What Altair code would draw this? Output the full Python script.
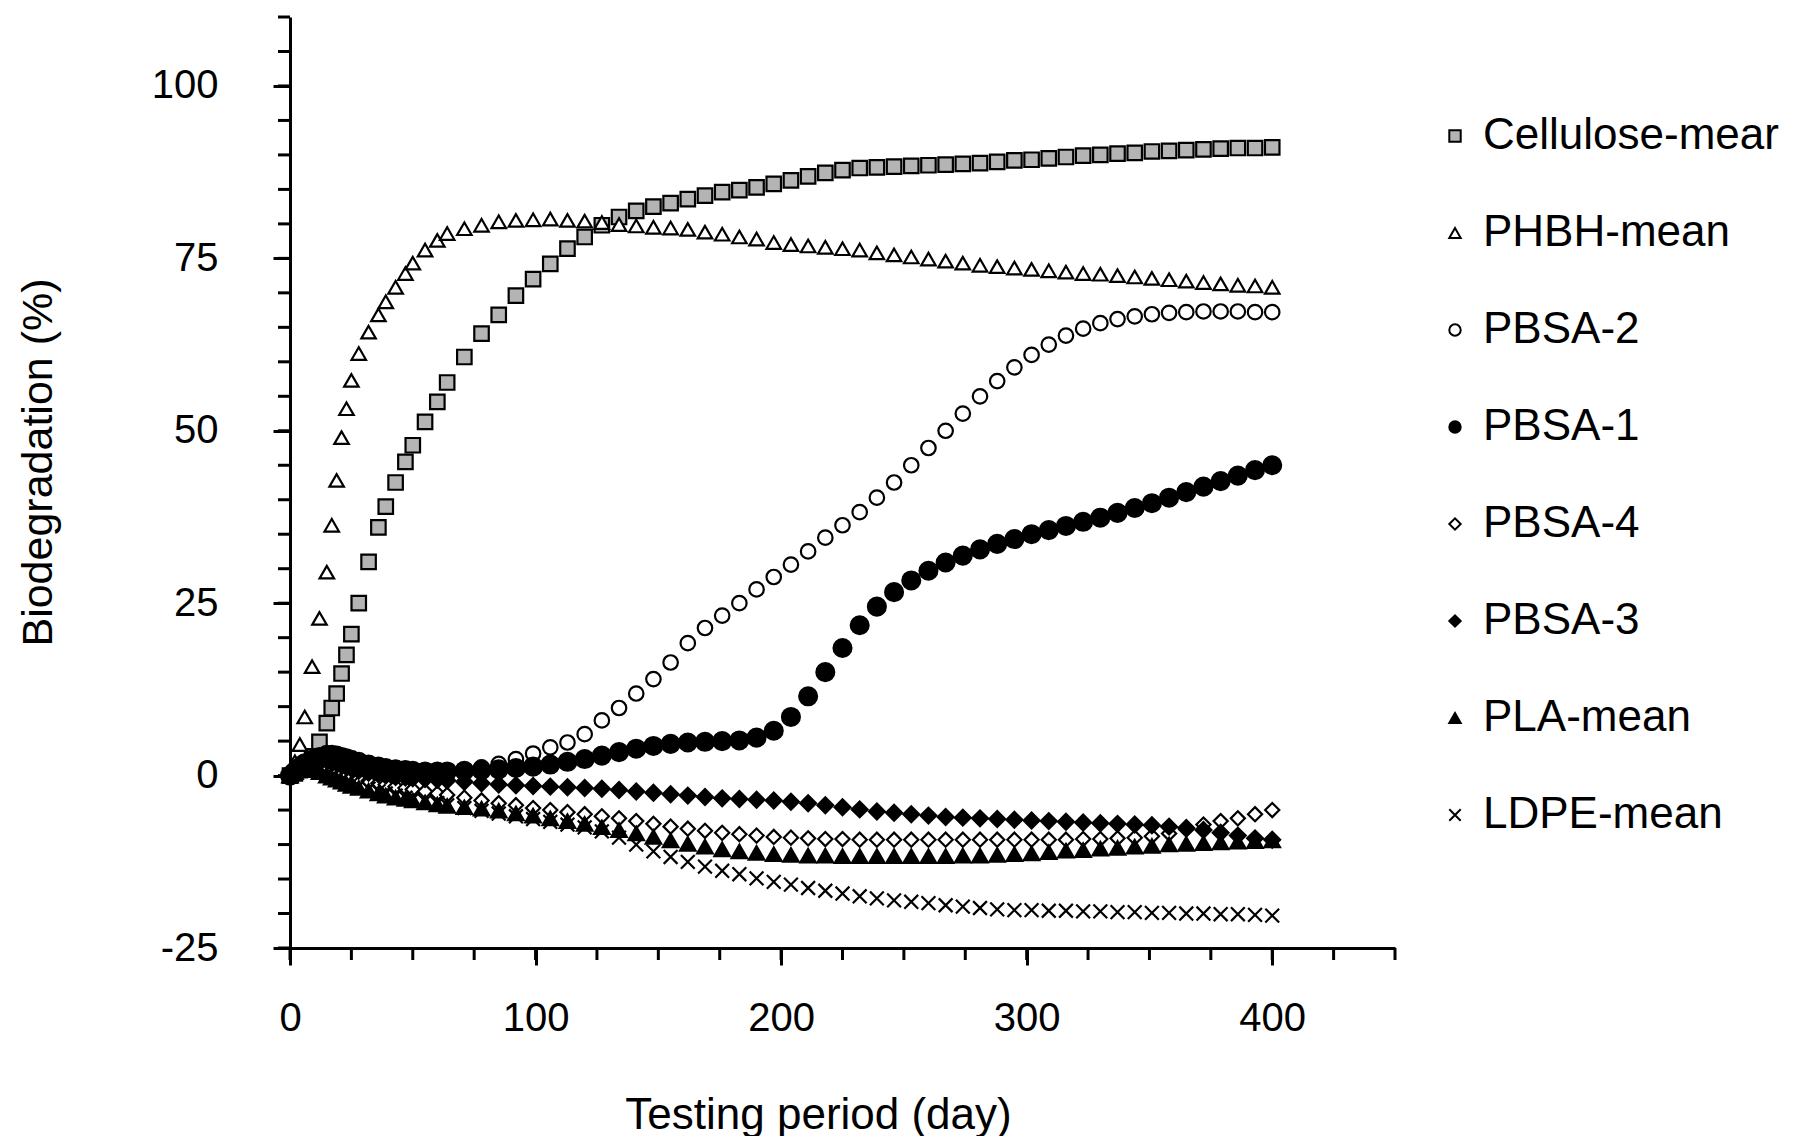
import altair as alt
import pandas as pd

# ---- data ----
days = [0, 2, 4, 6, 9, 12, 15, 17, 19, 21, 23, 25, 28, 32, 36, 39, 43, 47, 50, 55, 60,
        64, 71, 78, 85, 92, 99, 106, 113, 120, 127, 134, 141, 148, 155, 162, 169, 176, 183,
        190, 197, 204, 211, 218, 225, 232, 239, 246, 253, 260, 267, 274, 281, 288, 295,
        302, 309, 316, 323, 330, 337, 344, 351, 358, 365, 372, 379, 386, 393, 400]

cellulose = [0, 0.3, 0.8, 1.5, 2.8, 4.9, 7.6, 9.8, 11.9, 14.8, 17.5, 20.5, 25, 31, 36, 39, 42.5, 45.5, 47.9, 51.3, 54.2,
             57, 60.7, 64.1, 66.8, 69.6, 72, 74.2, 76.4, 78.1, 79.8, 81, 81.9, 82.5, 83, 83.6, 84.1, 84.6, 84.9, 85.3, 85.8,
             86.3, 86.9, 87.4, 87.8, 88.1, 88.2, 88.3, 88.4, 88.5, 88.6, 88.7, 88.8, 89.0, 89.2, 89.3, 89.5, 89.7, 89.9, 90.0,
             90.2, 90.3, 90.5, 90.6, 90.7, 90.8, 90.9, 91.0, 91.0, 91.1]
phbh = [0, 2, 4.5, 8.5, 15.8, 22.8, 29.5, 36.3, 42.8, 49, 53.2, 57.3, 61.2, 64.3, 66.8, 68.7, 70.8, 72.8, 74.3, 76.2, 77.6,
        78.6, 79.3, 79.8, 80.3, 80.5, 80.6, 80.7, 80.5, 80.4, 80.2, 79.9, 79.7, 79.5, 79.4, 79.2, 78.8, 78.5, 78.1, 77.8, 77.3,
        77.0, 76.8, 76.6, 76.4, 76.2, 75.8, 75.5, 75.2, 74.9, 74.6, 74.3, 74.0, 73.8, 73.6, 73.4, 73.2, 73.0, 72.8, 72.7,
        72.5, 72.3, 72.1, 71.9, 71.7, 71.5, 71.3, 71.1, 71.0, 70.8]
pbsa2 = [0, 0.5, 1, 1.5, 2, 2.2, 2.2, 2, 1.8, 1.5, 1.3, 1.1, 0.9, 0.7, 0.5, 0.4, 0.3, 0.3, 0.3, 0.4, 0.4,
         0.5, 0.8, 1.2, 1.7, 2.4, 3.2, 4.1, 4.8, 6, 8, 9.8, 11.9, 14, 16.4, 19.2, 21.4, 23.2, 25, 27, 28.8,
         30.6, 32.5, 34.5, 36.3, 38.2, 40.3, 42.5, 45, 47.5, 50, 52.5, 55, 57.2, 59.2, 61, 62.5, 63.8, 64.8, 65.6,
         66.2, 66.6, 66.9, 67.1, 67.2, 67.3, 67.3, 67.3, 67.2, 67.2]
pbsa1 = [0, 0.6, 1.2, 1.8, 2.3, 2.7, 3, 3, 2.9, 2.7, 2.5, 2.3, 2, 1.6, 1.3, 1.1, 0.9, 0.8, 0.7, 0.6, 0.6,
         0.6, 0.7, 0.8, 0.9, 1.1, 1.3, 1.6, 2, 2.4, 2.9, 3.4, 3.9, 4.3, 4.6, 4.8, 4.9, 5, 5.1, 5.5, 6.5,
         8.5, 11.5, 15, 18.5, 21.8, 24.5, 26.6, 28.3, 29.7, 30.9, 31.9, 32.8, 33.6, 34.3, 35, 35.6, 36.2, 36.8, 37.4,
         38.1, 38.8, 39.5, 40.3, 41.1, 41.9, 42.7, 43.5, 44.3, 45]
pbsa4 = [0, 0.5, 1, 1.2, 1.2, 1, 0.8, 0.5, 0.3, 0.1, -0.1, -0.3, -0.5, -0.8, -1.1, -1.3, -1.6, -1.8, -2, -2.3, -2.6,
         -2.8, -3.2, -3.6, -4, -4.3, -4.7, -5, -5.3, -5.6, -5.9, -6.2, -6.6, -7, -7.4, -7.7, -8, -8.3, -8.5, -8.7, -8.9,
         -9, -9.1, -9.2, -9.2, -9.3, -9.3, -9.3, -9.3, -9.3, -9.3, -9.3, -9.3, -9.3, -9.3, -9.3, -9.3, -9.3, -9.2, -9.2,
         -9.1, -9.0, -8.8, -8.4, -7.8, -7.1, -6.6, -6.2, -5.6, -5.0]
pbsa3 = [0, 0.5, 1, 1.5, 2, 2.2, 2.2, 2, 1.8, 1.5, 1.2, 1, 0.7, 0.4, 0.2, 0, -0.2, -0.3, -0.4, -0.5, -0.6,
         -0.7, -0.9, -1.1, -1.3, -1.4, -1.5, -1.6, -1.7, -1.8, -1.9, -2.1, -2.3, -2.5, -2.7, -2.9, -3.1, -3.3, -3.4, -3.5, -3.6,
         -3.8, -4.0, -4.3, -4.6, -4.9, -5.2, -5.4, -5.6, -5.8, -6.0, -6.1, -6.2, -6.3, -6.4, -6.5, -6.6, -6.7, -6.8, -6.9,
         -7.0, -7.1, -7.2, -7.4, -7.6, -7.9, -8.3, -8.7, -9.1, -9.3]
pla = [0, 0.5, 1, 1, 0.8, 0.5, 0, -0.3, -0.6, -0.9, -1.2, -1.5, -1.8, -2.2, -2.6, -2.9, -3.2, -3.4, -3.6, -3.9, -4.2,
       -4.4, -4.6, -4.8, -5.1, -5.5, -5.8, -6.2, -6.6, -7, -7.5, -7.9, -8.4, -8.9, -9.4, -9.9, -10.3, -10.7, -11, -11.2, -11.4,
       -11.5, -11.6, -11.6, -11.7, -11.7, -11.7, -11.7, -11.7, -11.7, -11.7, -11.6, -11.6, -11.5, -11.4, -11.3, -11.1, -10.9, -10.8, -10.6,
       -10.5, -10.3, -10.2, -10.0, -9.9, -9.8, -9.7, -9.6, -9.5, -9.4]
ldpe = [0, 0.5, 1, 1.2, 1, 0.7, 0.3, 0, -0.3, -0.6, -0.9, -1.2, -1.5, -1.9, -2.3, -2.6, -2.9, -3.2, -3.4, -3.7, -4,
        -4.3, -4.7, -5.1, -5.5, -5.9, -6.3, -6.7, -7.1, -7.5, -8.1, -9.0, -10.0, -11.0, -11.8, -12.5, -13.2, -13.8, -14.3, -14.9, -15.4,
        -15.8, -16.3, -16.7, -17.1, -17.5, -17.8, -18.1, -18.3, -18.5, -18.8, -19.0, -19.2, -19.4, -19.5, -19.5, -19.6, -19.6, -19.7, -19.7,
        -19.8, -19.8, -19.9, -19.9, -20.0, -20.0, -20.1, -20.1, -20.2, -20.3]

series_names = ["Cellulose-mear", "PHBH-mean", "PBSA-2", "PBSA-1", "PBSA-4", "PBSA-3", "PLA-mean", "LDPE-mean"]
series_values = [cellulose, phbh, pbsa2, pbsa1, pbsa4, pbsa3, pla, ldpe]

y_major = [-25, 0, 25, 50, 75, 100]
y_minor = list(range(-25, 111, 5))
x_major = [0, 100, 200, 300, 400]
x_minor = list(range(0, 451, 25))

# ---- styles ----
shapes = ["square", "triangle-up", "circle", "circle", "diamond", "diamond", "triangle-up",
          "M-1,-1L1,1M-1,1L1,-1"]
fills = ["#b4b4b4", "white", "white", "black", "white", "black", "black", "transparent"]
strokes = ["black"] * 8
marker_sizes = [210, 210, 210, 320, 200, 250, 240, 190]

rows = []
for name, vals, msz in zip(series_names, series_values, marker_sizes):
    for d, v in zip(days, vals):
        rows.append({"series": name, "day": d, "value": v, "msize": msz})
df = pd.DataFrame(rows)

W, H = 1105, 931
FONT = "Liberation Sans"
xs = alt.Scale(domain=[0, 450], nice=False, zero=False)
ys = alt.Scale(domain=[-25, 110], nice=False, zero=False)

x_axis = alt.Axis(values=x_major, tickSize=17, tickWidth=3, tickColor="black",
                  domainColor="black", domainWidth=3, grid=False, labelFlush=False,
                  labelFont=FONT, labelFontSize=40, labelColor="black", labelPadding=33,
                  labelExpr="'' + datum.value",
                  title="Testing period (day)", titleFont=FONT, titleFontSize=44,
                  titleFontWeight="normal", titleColor="black",
                  titleX=528, titleY=167, titleBaseline="middle", titleAlign="center")
y_axis = alt.Axis(values=y_major, tickSize=17, tickWidth=3, tickColor="black",
                  domainColor="black", domainWidth=3, grid=False, labelFlush=False,
                  labelFont=FONT, labelFontSize=40, labelColor="black", labelPadding=55,
                  labelExpr="'' + datum.value",
                  title="Biodegradation (%)", titleFont=FONT, titleFontSize=43,
                  titleFontWeight="normal", titleColor="black", titleAngle=270,
                  titleX=-252, titleY=445, titleBaseline="middle", titleAlign="center")

legend = alt.Legend(title=None, orient="none", legendX=1143, legendY=97, padding=0,
                    labelFont=FONT, labelFontSize=44, labelColor="black", labelLimit=0,
                    symbolSize=130, symbolStrokeWidth=2,
                    labelOffset=6, rowPadding=53)

points = alt.Chart(df).mark_point(filled=True, strokeWidth=2.2, opacity=1).encode(
    x=alt.X("day:Q", scale=xs, axis=x_axis),
    y=alt.Y("value:Q", scale=ys, axis=y_axis),
    shape=alt.Shape("series:N", scale=alt.Scale(domain=series_names, range=shapes), legend=legend),
    fill=alt.Fill("series:N", scale=alt.Scale(domain=series_names, range=fills), legend=legend),
    stroke=alt.Stroke("series:N", scale=alt.Scale(domain=series_names, range=strokes), legend=legend),
    size=alt.Size("msize:Q", scale=None, legend=None),
)

ytick_df = pd.DataFrame({"tick": y_minor})
xtick_df = pd.DataFrame({"tick": x_minor})

yticks = alt.Chart(ytick_df).mark_rule(color="black", strokeWidth=3).encode(
    y=alt.Y("tick:Q", scale=ys, axis=y_axis),
    x=alt.value(-12), x2=alt.value(0),
)
xticks = alt.Chart(xtick_df).mark_rule(color="black", strokeWidth=3).encode(
    x=alt.X("tick:Q", scale=xs, axis=x_axis),
    y=alt.value(H), y2=alt.value(H + 12),
)

chart = alt.layer(points, yticks, xticks).properties(
    width=W, height=H,
    background="white",
    autosize=alt.AutoSizeParams(type="none"),
    padding={"left": 282, "top": 9, "right": 400, "bottom": 188},
).configure_view(strokeWidth=0)

chart.save("out.html", embed_options={"renderer": "svg", "actions": False})
